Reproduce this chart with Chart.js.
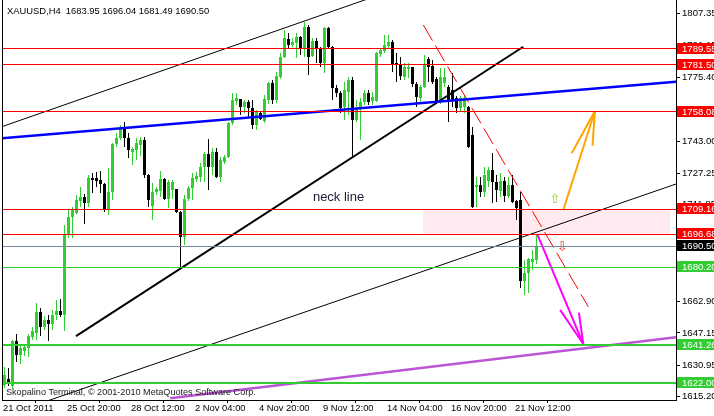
<!DOCTYPE html>
<html>
<head>
<meta charset="utf-8">
<script src="https://cdn.jsdelivr.net/npm/chart.js@4.4.0/dist/chart.umd.min.js"></script>
<style>
  html, body { margin: 0; padding: 0; background: #fff; }
  #wrap { width: 714px; height: 416px; }
</style>
</head>
<body>
<div id="wrap"><canvas id="js-goldChart" width="714" height="416"></canvas></div>
<script>
/*--------------------
    data (XAUUSD H4, oldest bar first)
--------------------*/
var opens = [1621.1,1624.1,1620.6,1643.1,1636.1,1638.1,1639.6,1645.1,1647.1,1657.7,
  1650.1,1653.6,1651.6,1656.1,1658.1,1656.1,1696.2,1705.3,1707.3,1713.3,
  1715.3,1712.3,1724.8,1724.8,1723.8,1721.8,1708.8,1717.8,1741.9,1744.9,
  1750.4,1744.9,1737.8,1738.8,1741.4,1743.9,1726.3,1710.8,1717.8,1718.3,
  1724.3,1714.3,1718.8,1719.3,1707.8,1695.2,1714.3,1719.8,1724.3,1725.3,
  1730.3,1736.8,1730.3,1737.8,1725.3,1732.8,1735.3,1752.4,1763.4,1764.4,
  1760.4,1762.9,1759.9,1751.4,1757.4,1753.4,1763.9,1772.4,1763.9,1775.4,
  1785.4,1794.5,1791.5,1792.5,1795.5,1790.0,1800.5,1785.9,1793.5,1790.0,
  1782.4,1800.0,1790.5,1769.9,1767.4,1760.4,1767.9,1773.9,1753.9,1759.9,
  1762.9,1767.4,1763.4,1763.4,1786.9,1788.4,1791.0,1793.0,1782.4,1781.4,
  1775.4,1779.4,1780.4,1771.9,1764.9,1770.4,1784.4,1780.9,1774.4,1762.9,
  1772.4,1770.4,1768.9,1764.9,1759.9,1760.4,1760.4,1746.4,1720.3,1721.3,
  1717.8,1723.3,1728.8,1722.8,1718.3,1723.3,1715.8,1721.3,1713.3,1713.8,
  1673.2,1677.2,1682.7,1683.95];
var highs = [1630.1,1629.6,1643.6,1646.6,1641.6,1641.1,1646.6,1650.1,1662.2,1659.7,
  1655.6,1656.1,1658.6,1663.7,1664.2,1701.3,1708.8,1710.3,1716.3,1720.3,
  1716.8,1726.3,1727.3,1727.8,1728.3,1722.3,1729.8,1742.4,1747.4,1751.4,
  1752.9,1747.4,1740.3,1744.9,1745.4,1745.4,1726.8,1722.3,1720.3,1728.3,
  1724.8,1723.8,1723.8,1719.3,1708.3,1716.3,1720.8,1727.3,1727.8,1732.3,
  1737.8,1744.4,1739.8,1739.8,1735.3,1736.3,1752.9,1767.4,1767.4,1764.4,
  1763.9,1763.9,1763.9,1758.9,1757.9,1766.4,1772.9,1773.9,1777.9,1787.4,
  1799.0,1797.5,1795.0,1797.5,1796.0,1803.0,1801.5,1795.0,1795.0,1790.5,
  1800.5,1800.5,1791.0,1771.4,1768.4,1772.9,1775.4,1775.4,1763.9,1764.9,
  1768.9,1768.9,1767.9,1787.9,1789.9,1796.5,1796.5,1794.0,1787.4,1785.4,
  1782.4,1782.4,1780.4,1772.9,1771.4,1786.4,1785.4,1783.9,1775.4,1779.9,
  1779.9,1771.4,1777.4,1765.9,1765.9,1766.4,1760.9,1750.4,1725.3,1725.3,
  1730.3,1730.3,1737.3,1726.3,1727.3,1725.3,1725.3,1726.3,1713.8,1717.8,
  1683.7,1684.7,1688.7,1696.04];
var lows = [1619.6,1620.6,1619.6,1632.6,1631.6,1635.6,1635.1,1643.6,1643.6,1645.6,
  1648.6,1643.1,1648.6,1653.6,1655.1,1648.1,1694.7,1694.7,1706.8,1710.3,
  1701.8,1710.3,1717.3,1720.3,1717.3,1707.8,1706.3,1713.8,1740.3,1743.9,
  1740.3,1734.8,1731.3,1733.8,1735.8,1724.8,1710.3,1703.8,1716.3,1715.3,
  1713.8,1709.8,1714.3,1707.3,1680.2,1691.2,1713.3,1713.8,1722.8,1722.8,
  1722.8,1718.8,1726.3,1724.8,1722.8,1731.8,1734.8,1751.4,1761.4,1756.4,
  1757.4,1754.9,1749.4,1748.9,1753.9,1752.4,1761.9,1761.9,1762.4,1774.4,
  1784.9,1789.5,1790.5,1785.0,1786.4,1785.4,1776.4,1785.4,1782.4,1780.4,
  1777.4,1790.0,1763.9,1765.4,1757.4,1753.9,1756.4,1734.8,1752.9,1743.9,
  1761.4,1761.4,1761.4,1762.9,1785.4,1787.4,1790.0,1777.9,1772.9,1773.9,
  1773.9,1774.9,1770.4,1760.4,1762.9,1769.9,1772.9,1771.9,1762.4,1761.9,
  1770.4,1752.9,1760.4,1757.4,1757.9,1757.4,1739.8,1709.8,1710.3,1715.3,
  1715.3,1720.3,1712.3,1712.8,1715.3,1712.8,1714.8,1712.3,1703.8,1669.7,
  1666.2,1667.2,1678.7,1681.49];
var closes = [1626.1,1622.1,1643.1,1636.1,1639.6,1640.1,1645.6,1648.1,1657.7,1650.1,
  1653.6,1651.6,1656.1,1658.1,1656.1,1696.2,1705.3,1708.8,1713.8,1715.3,
  1712.3,1724.8,1723.8,1723.3,1721.8,1708.8,1717.8,1741.9,1744.9,1750.4,
  1744.9,1738.8,1739.3,1742.4,1743.9,1726.3,1713.8,1717.8,1719.3,1724.3,
  1714.3,1722.8,1722.8,1707.8,1695.2,1714.3,1719.8,1724.8,1725.8,1730.3,
  1736.8,1730.3,1737.8,1725.3,1733.8,1735.3,1752.4,1763.9,1764.9,1760.4,
  1762.9,1759.9,1751.4,1757.9,1754.4,1764.4,1772.4,1763.9,1775.9,1785.4,
  1795.0,1791.5,1793.0,1795.5,1790.0,1800.5,1785.4,1793.5,1790.0,1782.4,
  1800.0,1790.5,1769.9,1767.4,1759.9,1768.9,1773.9,1753.9,1759.9,1762.9,
  1767.4,1762.9,1765.4,1787.4,1788.9,1791.5,1793.0,1781.4,1781.4,1775.9,
  1780.4,1780.4,1771.9,1765.4,1770.4,1781.4,1780.4,1772.9,1762.9,1775.4,
  1775.4,1763.9,1763.9,1759.9,1764.9,1764.9,1740.3,1710.3,1721.3,1717.8,
  1726.3,1728.8,1722.8,1718.8,1723.3,1715.8,1721.3,1712.8,1709.8,1673.2,
  1677.2,1684.2,1684.2,1690.50];

var timeTicks = [-0.375, 15.625, 31.625, 47.625, 63.625, 79.625, 95.625, 111.625, 127.625];
var timeLabels = ["21 Oct 2011", "25 Oct 20:00", "28 Oct 12:00", "2 Nov 04:00", "4 Nov 20:00",
  "9 Nov 12:00", "14 Nov 04:00", "16 Nov 20:00", "21 Nov 12:00"];
var priceTicks = [1807.35, 1791.15, 1775.40, 1743.00, 1727.25, 1711.85, 1662.90, 1647.15, 1630.95, 1615.20];

var redLevels = [1789.55, 1781.50, 1758.08, 1709.16, 1696.68];
var bidLevel = 1690.50;
var thinGreenLevel = 1680.20;
var thickGreenLevels = [1641.26, 1622.00];

// drawn objects, [bar, price] end points
var upperChannel = [[-1.125, 1750.2], [100, 1821.0]];
var lowerChannel = [[-1.125, 1604.9], [167.875, 1721.8]];
var blueLine = [[-1.125, 1744.6], [167.875, 1773.1]];
var neckLine = [[17.875, 1645.6], [129.7, 1790.6]];
var redDash = [[104.7, 1801.5], [145.95, 1660.3]];
var purpleLine = [[41.4, 1614.4], [167.875, 1645.0]];
var magentaArrow = [[133.2, 1696.7], [144.7, 1641.6]];
var magentaHeadL = [[138.9, 1658.7], [144.7, 1641.6]];
var magentaHeadR = [[143.6, 1657.3], [144.7, 1641.6]];
var orangeArrow = [[139.7, 1708.8], [147.6, 1758.4]];
var orangeHeadL = [[141.8, 1737.2], [147.6, 1758.4]];
var orangeHeadR = [[147.0, 1741.0], [147.6, 1758.4]];
var zoneBars = [104.6, 166.4];

var GREEN = '#32CD32';
var FONT = '"Liberation Sans", Arial, sans-serif';

/*--------------------
    datasets
--------------------*/
var bullWick = [], bullBody = [], bearWick = [], bearBody = [];
for (var i = 0; i < closes.length; i++) {
    var up = closes[i] >= opens[i];
    (up ? bullWick : bearWick).push({x: i, y: [lows[i], highs[i]]});
    (up ? bullBody : bearBody).push({x: i, y: [opens[i], closes[i]]});
}

function candles(data, color, w, order) {
    return {
        type: 'bar', data: data, backgroundColor: color, borderWidth: 0,
        barThickness: w, maxBarThickness: w, grouped: false, minBarLength: 1,
        inflateAmount: 0, order: order
    };
}
function seg(pts, color, w, dash, extra) {
    var ds = {
        type: 'line', data: pts.map(function (p) { return {x: p[0], y: p[1]}; }),
        borderColor: color, borderWidth: w, borderDash: dash || [], pointRadius: 0,
        fill: false, tension: 0, clip: 0, order: 1
    };
    for (var k in extra || {}) ds[k] = extra[k];
    return ds;
}
function hline(v, color, w) {
    return seg([[-2, v], [170, v]], color, w, [], {snap: true});
}

var datasets = [
    // pink zone behind the candles
    seg([[zoneBars[0], redLevels[3]], [zoneBars[1], redLevels[3]]], 'rgba(0,0,0,0)', 0, [],
        {fill: '+1', backgroundColor: '#FFEBEF', order: 10, snap: true}),
    seg([[zoneBars[0], redLevels[4]], [zoneBars[1], redLevels[4]]], 'rgba(0,0,0,0)', 0, [],
        {order: 10, snap: true}),
    candles(bullWick, GREEN, 1, 6),
    candles(bearWick, '#000', 1, 6),
    candles(bullBody, GREEN, 3, 5),
    candles(bearBody, '#000', 3, 5)
];
redLevels.forEach(function (v) { datasets.push(hline(v, '#FF0000', 1)); });
datasets.push(hline(bidLevel, '#778899', 1));
datasets.push(hline(thinGreenLevel, GREEN, 1));
thickGreenLevels.forEach(function (v) { datasets.push(hline(v, GREEN, 2)); });
datasets.push(seg(upperChannel, '#000', 1));
datasets.push(seg(lowerChannel, '#000', 1));
datasets.push(seg(blueLine, '#0000FF', 2.5));
datasets.push(seg(neckLine, '#000', 2));
datasets.push(seg(purpleLine, '#BA55D3', 2.5));
datasets.push(seg(redDash, '#FF0000', 1, [18, 6]));
[magentaArrow, magentaHeadL, magentaHeadR].forEach(function (p) { datasets.push(seg(p, '#FF00FF', 2)); });
[orangeArrow, orangeHeadL, orangeHeadR].forEach(function (p) { datasets.push(seg(p, '#FFA500', 2)); });

/*--------------------
    pixel snapping (keeps 1px lines and candle bodies sharp)
--------------------*/
var snapper = {
    id: 'snapper',
    afterDatasetsUpdate: function (chart) {
        chart.data.datasets.forEach(function (ds, di) {
            var meta = chart.getDatasetMeta(di);
            if (ds.type === 'bar') {
                meta.data.forEach(function (el) {
                    var t = Math.round(el.y), b = Math.round(el.base);
                    if (t === b) b = t + 1;
                    el.y = t; el.base = b;
                });
            } else if (ds.snap) {
                var odd = Math.round(ds.borderWidth) % 2 === 1;
                meta.data.forEach(function (el) {
                    el.y = odd ? Math.floor(el.y) + 0.5 : Math.round(el.y);
                });
                if (meta.dataset) meta.dataset.points = meta.data;
            }
        });
    }
};

/*--------------------
    overlay texts / price labels
--------------------*/
var overlay = {
    id: 'overlay',
    afterDraw: function (chart) {
        var ctx = chart.ctx, a = chart.chartArea, xs = chart.scales.x, ys = chart.scales.y;
        ctx.save();
        ctx.strokeStyle = '#000';
        ctx.lineWidth = 1;
        ctx.beginPath();
        ctx.moveTo(a.left + 0.5, 0);
        ctx.lineTo(a.left + 0.5, a.bottom);
        ctx.stroke();

        ctx.font = '9.4px ' + FONT;
        ctx.fillStyle = '#000';
        ctx.textBaseline = 'alphabetic';
        ctx.fillText('XAUUSD,H4  1683.95 1696.04 1681.49 1690.50', 7, 14);
        ctx.fillStyle = '#202020';
        ctx.font = '9.1px ' + FONT;
        ctx.fillText('Skopalino Terminal, \u00A9 2001-2010 MetaQuotes Software Corp.', 6, 394.5);

        ctx.font = '13px ' + FONT;
        ctx.fillStyle = '#1c1c3c';
        ctx.fillText('neck line', xs.getPixelForValue(77.1), ys.getPixelForValue(1713.4));

        // little arrows
        ctx.font = '13px "DejaVu Sans"';
        ctx.textAlign = 'center';
        ctx.textBaseline = 'middle';
        ctx.fillStyle = '#9ACD32';
        ctx.fillText('\u21E7', xs.getPixelForValue(137.6), ys.getPixelForValue(1713.8));
        ctx.fillStyle = '#FF3030';
        ctx.fillText('\u21E9', xs.getPixelForValue(139.4), ys.getPixelForValue(1689.7));

        // price labels on the right axis
        var tags = redLevels.map(function (v) { return [v, '#FF0000']; });
        tags.push([bidLevel, '#000']);
        tags.push([thinGreenLevel, GREEN]);
        thickGreenLevels.forEach(function (v) { tags.push([v, GREEN]); });
        ctx.font = '9.6px ' + FONT;
        ctx.textAlign = 'left';
        tags.forEach(function (t) {
            var py = Math.round(ys.getPixelForValue(t[0]));
            ctx.fillStyle = t[1];
            ctx.fillRect(a.right + 1, py - 6, 40, 11);
            ctx.fillStyle = '#fff';
            ctx.fillText(t[0].toFixed(2), a.right + 6, py);
        });
        ctx.restore();
    }
};

/*--------------------
    chart
--------------------*/
var ctx = document.getElementById('js-goldChart').getContext('2d');
var myChart = new Chart(ctx, {
    type: 'bar',
    data: {datasets: datasets},
    options: {
        responsive: false,
        animation: false,
        events: [],
        devicePixelRatio: 1,
        layout: {padding: {left: 2, top: 0, right: 0, bottom: 0}},
        plugins: {legend: {display: false}, tooltip: {enabled: false}},
        scales: {
            x: {
                type: 'linear', position: 'bottom', min: -0.625, max: 167.875, offset: false,
                afterBuildTicks: function (s) { s.ticks = timeTicks.map(function (v) { return {value: v}; }); },
                afterFit: function (s) { s.height = 16; s.paddingLeft = 0; s.paddingRight = 0; },
                grid: {drawOnChartArea: false, tickLength: 3, color: '#000'},
                border: {display: true, color: '#000'},
                ticks: {
                    align: 'start', maxRotation: 0, autoSkip: false, padding: 0, color: '#000',
                    font: {family: FONT, size: 9.4},
                    callback: function (v, idx) { return timeLabels[idx]; }
                }
            },
            y: {
                type: 'linear', position: 'right', min: 1613.55, max: 1814.02,
                afterBuildTicks: function (s) { s.ticks = priceTicks.map(function (v) { return {value: v}; }); },
                afterFit: function (s) { s.width = 38; s.paddingTop = 0; s.paddingBottom = 0; },
                grid: {drawOnChartArea: false, tickLength: 4, color: '#000'},
                border: {display: true, color: '#000'},
                ticks: {
                    padding: 2, color: '#000', font: {family: FONT, size: 9.6},
                    callback: function (v) { return v.toFixed(2); }
                }
            }
        }
    },
    plugins: [snapper, overlay]
});
</script>
</body>
</html>
